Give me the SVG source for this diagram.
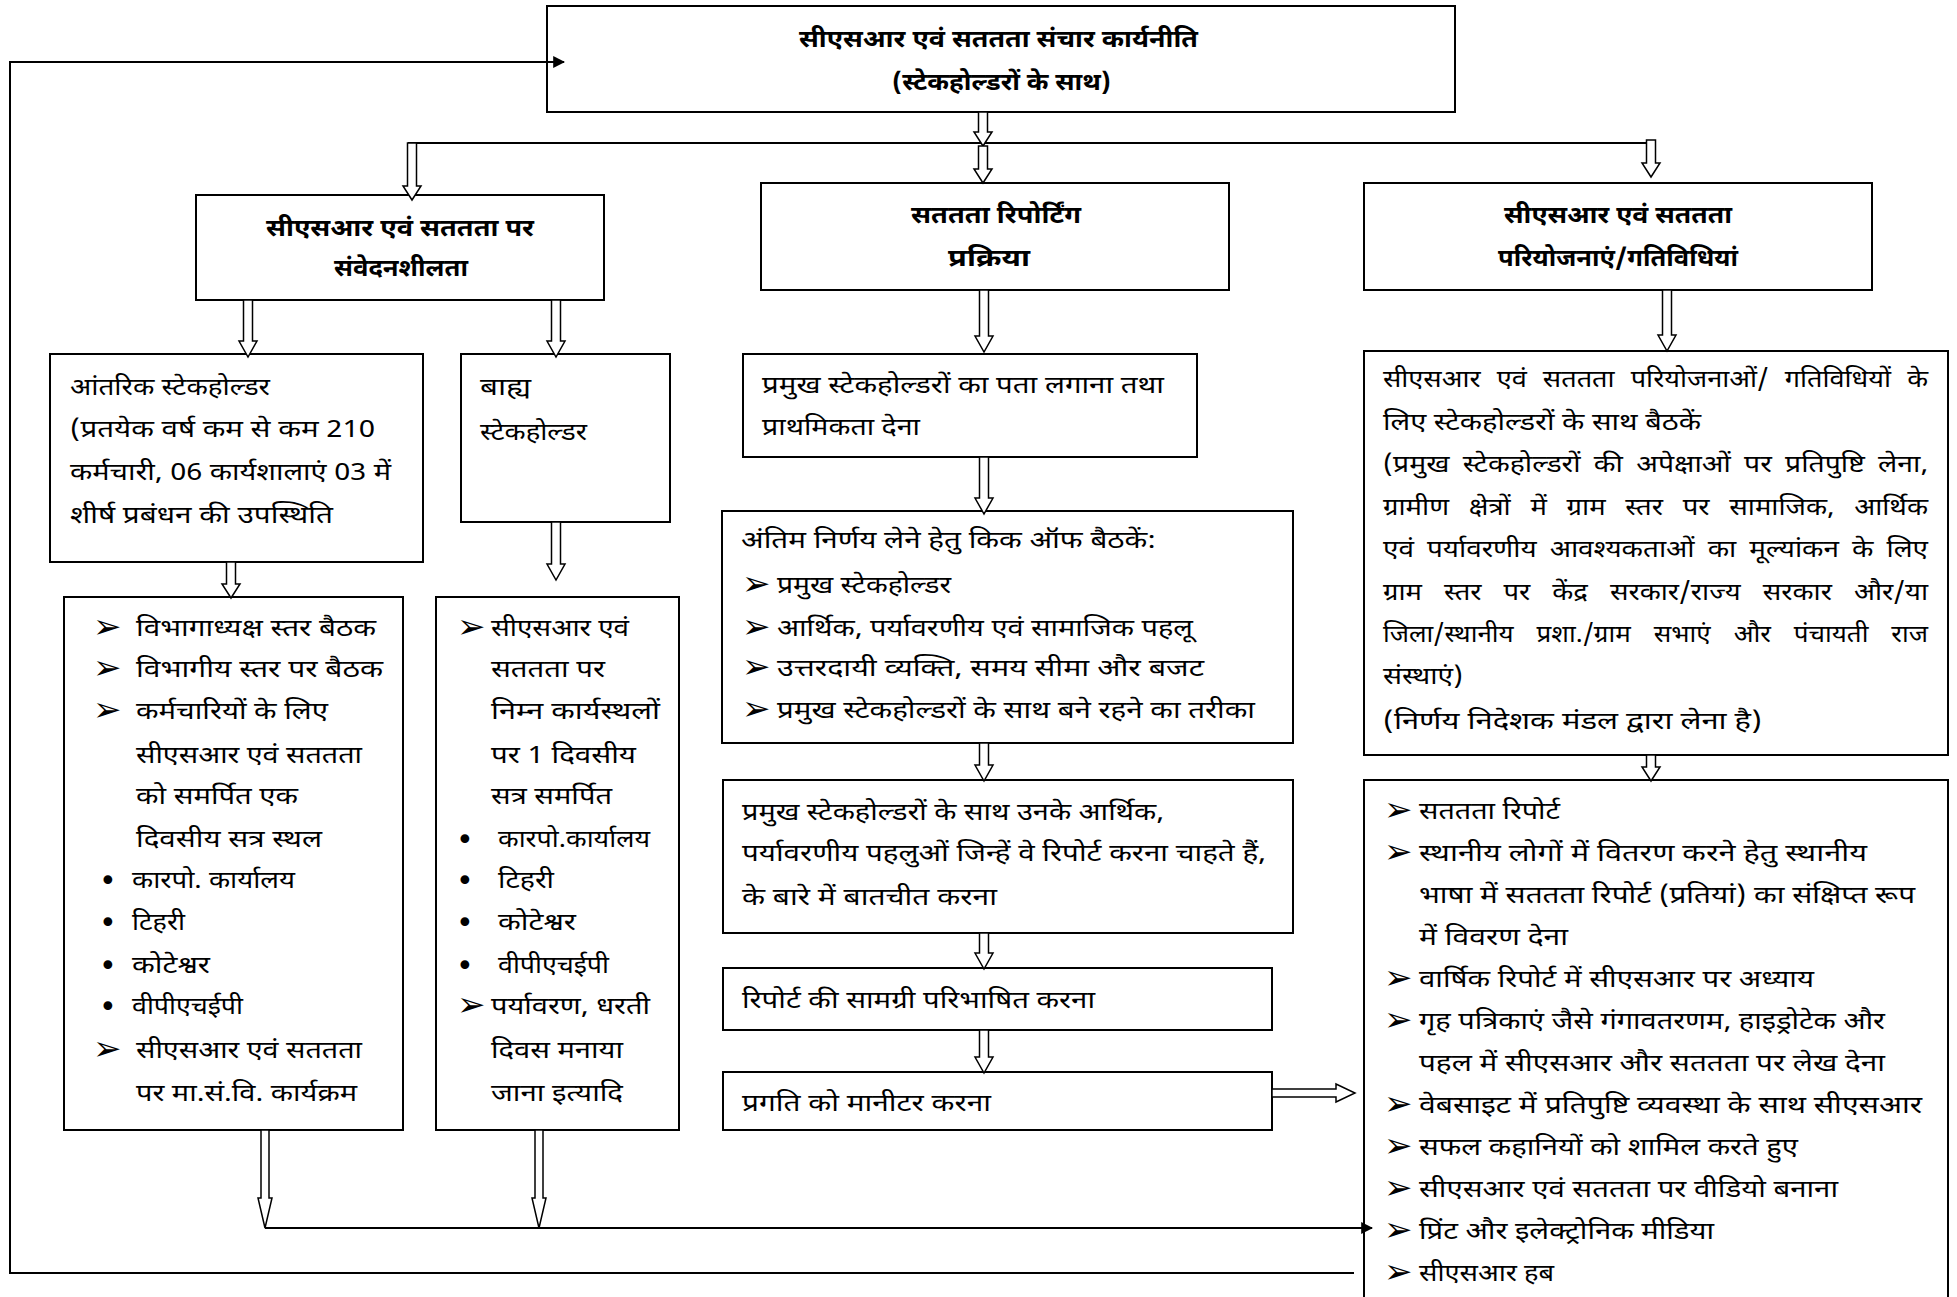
<svg xmlns="http://www.w3.org/2000/svg" width="1957" height="1297" viewBox="0 0 1957 1297">
<style>
.box{fill:#fff;stroke:#000;stroke-width:2}
.t{font-family:'Noto Sans Devanagari','Noto Sans','Liberation Sans',sans-serif;font-size:24px;fill:#000}
.h{font-weight:bold}
.b{font-family:'DejaVu Sans',sans-serif;font-size:34px;fill:#000}
.d{font-family:'DejaVu Sans',sans-serif;font-size:30px;fill:#000}
.arr{fill:#fff;stroke:#000;stroke-width:1.5}
.ln{fill:none;stroke:#000;stroke-width:2}
</style>
<defs>
<marker id="ah" viewBox="0 0 10 10" refX="9" refY="5" markerWidth="6" markerHeight="6" markerUnits="strokeWidth" orient="auto">
<path d="M0,0 L10,5 L0,10 Z" fill="#000"/>
</marker>
</defs>
<rect width="1957" height="1297" fill="#fff"/>

<g id="n-top">
<rect class="box" x="547" y="6" width="908" height="106"/>
<text class="t h" x="799" y="47" textLength="399" lengthAdjust="spacingAndGlyphs">सीएसआर एवं सततता संचार कार्यनीति</text>
<text class="t h" x="892" y="90" textLength="219" lengthAdjust="spacingAndGlyphs">(स्टेकहोल्डरों के साथ)</text>
</g>

<g id="n-sensitivity">
<rect class="box" x="196" y="195" width="408" height="105"/>
<text class="t h" x="266" y="236" textLength="268" lengthAdjust="spacingAndGlyphs">सीएसआर एवं सततता पर</text>
<text class="t h" x="334" y="276" textLength="134" lengthAdjust="spacingAndGlyphs">संवेदनशीलता</text>
</g>

<g id="n-reporting">
<rect class="box" x="761" y="183" width="468" height="107"/>
<text class="t h" x="911" y="223" textLength="170" lengthAdjust="spacingAndGlyphs">सततता रिपोर्टिंग</text>
<text class="t h" x="948" y="266" textLength="82" lengthAdjust="spacingAndGlyphs">प्रक्रिया</text>
</g>

<g id="n-projects">
<rect class="box" x="1364" y="183" width="508" height="107"/>
<text class="t h" x="1504" y="223" textLength="228" lengthAdjust="spacingAndGlyphs">सीएसआर एवं सततता</text>
<text class="t h" x="1498" y="266" textLength="240" lengthAdjust="spacingAndGlyphs">परियोजनाएं/गतिविधियां</text>
</g>

<g id="n-internal">
<rect class="box" x="50" y="354" width="373" height="208"/>
<text class="t" x="70" y="395" textLength="200" lengthAdjust="spacingAndGlyphs">आंतरिक स्टेकहोल्डर</text>
<text class="t" x="70" y="437" textLength="305" lengthAdjust="spacingAndGlyphs">(प्रतयेक वर्ष कम से कम 210</text>
<text class="t" x="70" y="480" textLength="321" lengthAdjust="spacingAndGlyphs">कर्मचारी, 06 कार्यशालाएं 03 में</text>
<text class="t" x="70" y="523" textLength="263" lengthAdjust="spacingAndGlyphs">शीर्ष प्रबंधन की उपस्थिति</text>
</g>

<g id="n-external">
<rect class="box" x="461" y="354" width="209" height="168"/>
<text class="t" x="480" y="395" textLength="51" lengthAdjust="spacingAndGlyphs">बाह्य</text>
<text class="t" x="480" y="440" textLength="107" lengthAdjust="spacingAndGlyphs">स्टेकहोल्डर</text>
</g>

<g id="n-internal-list">
<rect class="box" x="64" y="597" width="339" height="533"/>
<text class="b" x="93" y="638">➢</text><text class="t" x="136" y="636" textLength="240" lengthAdjust="spacingAndGlyphs">विभागाध्यक्ष स्तर बैठक</text>
<text class="b" x="93" y="679">➢</text><text class="t" x="136" y="677" textLength="247" lengthAdjust="spacingAndGlyphs">विभागीय स्तर पर बैठक</text>
<text class="b" x="93" y="721">➢</text><text class="t" x="136" y="719" textLength="192" lengthAdjust="spacingAndGlyphs">कर्मचारियों के लिए</text>
<text class="t" x="136" y="763" textLength="226" lengthAdjust="spacingAndGlyphs">सीएसआर एवं सततता</text>
<text class="t" x="136" y="804" textLength="162" lengthAdjust="spacingAndGlyphs">को समर्पित एक</text>
<text class="t" x="136" y="847" textLength="186" lengthAdjust="spacingAndGlyphs">दिवसीय सत्र स्थल</text>
<text class="d" x="99" y="891">•</text><text class="t" x="132" y="888" textLength="163" lengthAdjust="spacingAndGlyphs">कारपो. कार्यालय</text>
<text class="d" x="99" y="933">•</text><text class="t" x="132" y="930" textLength="53" lengthAdjust="spacingAndGlyphs">टिहरी</text>
<text class="d" x="99" y="976">•</text><text class="t" x="132" y="973" textLength="78" lengthAdjust="spacingAndGlyphs">कोटेश्वर</text>
<text class="d" x="99" y="1017">•</text><text class="t" x="132" y="1014" textLength="111" lengthAdjust="spacingAndGlyphs">वीपीएचईपी</text>
<text class="b" x="93" y="1060">➢</text><text class="t" x="136" y="1058" textLength="226" lengthAdjust="spacingAndGlyphs">सीएसआर एवं सततता</text>
<text class="t" x="136" y="1101" textLength="221" lengthAdjust="spacingAndGlyphs">पर मा.सं.वि. कार्यक्रम</text>
</g>

<g id="n-external-list">
<rect class="box" x="436" y="597" width="243" height="533"/>
<text class="b" x="457" y="638">➢</text><text class="t" x="491" y="636" textLength="138" lengthAdjust="spacingAndGlyphs">सीएसआर एवं</text>
<text class="t" x="491" y="677" textLength="114" lengthAdjust="spacingAndGlyphs">सततता पर</text>
<text class="t" x="491" y="719" textLength="169" lengthAdjust="spacingAndGlyphs">निम्न कार्यस्थलों</text>
<text class="t" x="491" y="763" textLength="145" lengthAdjust="spacingAndGlyphs">पर 1 दिवसीय</text>
<text class="t" x="491" y="804" textLength="121" lengthAdjust="spacingAndGlyphs">सत्र समर्पित</text>
<text class="d" x="456" y="850">•</text><text class="t" x="498" y="847" textLength="152" lengthAdjust="spacingAndGlyphs">कारपो.कार्यालय</text>
<text class="d" x="456" y="891">•</text><text class="t" x="498" y="888" textLength="56" lengthAdjust="spacingAndGlyphs">टिहरी</text>
<text class="d" x="456" y="933">•</text><text class="t" x="498" y="930" textLength="78" lengthAdjust="spacingAndGlyphs">कोटेश्वर</text>
<text class="d" x="456" y="976">•</text><text class="t" x="498" y="973" textLength="111" lengthAdjust="spacingAndGlyphs">वीपीएचईपी</text>
<text class="b" x="457" y="1016">➢</text><text class="t" x="491" y="1014" textLength="159" lengthAdjust="spacingAndGlyphs">पर्यावरण, धरती</text>
<text class="t" x="491" y="1058" textLength="132" lengthAdjust="spacingAndGlyphs">दिवस मनाया</text>
<text class="t" x="491" y="1101" textLength="132" lengthAdjust="spacingAndGlyphs">जाना इत्यादि</text>
</g>

<g id="n-identify">
<rect class="box" x="743" y="354" width="454" height="103"/>
<text class="t" x="762" y="393" textLength="402" lengthAdjust="spacingAndGlyphs">प्रमुख स्टेकहोल्डरों का पता लगाना तथा</text>
<text class="t" x="762" y="435" textLength="158" lengthAdjust="spacingAndGlyphs">प्राथमिकता देना</text>
</g>

<g id="n-kickoff">
<rect class="box" x="722" y="511" width="571" height="232"/>
<text class="t" x="741" y="548" textLength="415" lengthAdjust="spacingAndGlyphs">अंतिम निर्णय लेने हेतु किक ऑफ बैठकें:</text>
<text class="b" x="742" y="595">➢</text><text class="t" x="777" y="593" textLength="174" lengthAdjust="spacingAndGlyphs">प्रमुख स्टेकहोल्डर</text>
<text class="b" x="742" y="638">➢</text><text class="t" x="777" y="636" textLength="416" lengthAdjust="spacingAndGlyphs">आर्थिक, पर्यावरणीय एवं सामाजिक पहलू</text>
<text class="b" x="742" y="678">➢</text><text class="t" x="777" y="676" textLength="427" lengthAdjust="spacingAndGlyphs">उत्तरदायी व्यक्ति, समय सीमा और बजट</text>
<text class="b" x="742" y="720">➢</text><text class="t" x="777" y="718" textLength="478" lengthAdjust="spacingAndGlyphs">प्रमुख स्टेकहोल्डरों के साथ बने रहने का तरीका</text>
</g>

<g id="n-discuss">
<rect class="box" x="723" y="780" width="570" height="153"/>
<text class="t" x="742" y="820" textLength="422" lengthAdjust="spacingAndGlyphs">प्रमुख स्टेकहोल्डरों के साथ उनके आर्थिक,</text>
<text class="t" x="742" y="861" textLength="524" lengthAdjust="spacingAndGlyphs">पर्यावरणीय पहलुओं जिन्हें वे रिपोर्ट करना चाहते हैं,</text>
<text class="t" x="742" y="905" textLength="255" lengthAdjust="spacingAndGlyphs">के बारे में बातचीत करना</text>
</g>

<g id="n-define">
<rect class="box" x="723" y="968" width="549" height="62"/>
<text class="t" x="742" y="1008" textLength="353" lengthAdjust="spacingAndGlyphs">रिपोर्ट की सामग्री परिभाषित करना</text>
</g>

<g id="n-monitor">
<rect class="box" x="723" y="1072" width="549" height="58"/>
<text class="t" x="742" y="1111" textLength="249" lengthAdjust="spacingAndGlyphs">प्रगति को मानीटर करना</text>
</g>

<g id="n-meetings">
<rect class="box" x="1364" y="351" width="584" height="404"/>
<text class="t" x="1383" y="387" word-spacing="8" textLength="545" lengthAdjust="spacingAndGlyphs">सीएसआर एवं सततता परियोजनाओं/ गतिविधियों के</text>
<text class="t" x="1383" y="430" textLength="318" lengthAdjust="spacingAndGlyphs">लिए स्टेकहोल्डरों के साथ बैठकें</text>
<text class="t" x="1383" y="472" word-spacing="5" textLength="545" lengthAdjust="spacingAndGlyphs">(प्रमुख स्टेकहोल्डरों की अपेक्षाओं पर प्रतिपुष्टि लेना,</text>
<text class="t" x="1383" y="515" word-spacing="11" textLength="545" lengthAdjust="spacingAndGlyphs">ग्रामीण क्षेत्रों में ग्राम स्तर पर सामाजिक, आर्थिक</text>
<text class="t" x="1383" y="557" word-spacing="5" textLength="545" lengthAdjust="spacingAndGlyphs">एवं पर्यावरणीय आवश्यकताओं का मूल्यांकन के लिए</text>
<text class="t" x="1383" y="600" word-spacing="13" textLength="545" lengthAdjust="spacingAndGlyphs">ग्राम स्तर पर केंद्र सरकार/राज्य सरकार और/या</text>
<text class="t" x="1383" y="642" word-spacing="15" textLength="545" lengthAdjust="spacingAndGlyphs">जिला/स्थानीय प्रशा./ग्राम सभाएं और पंचायती राज</text>
<text class="t" x="1383" y="684" textLength="80" lengthAdjust="spacingAndGlyphs">संस्थाएं)</text>
<text class="t" x="1383" y="729" textLength="379" lengthAdjust="spacingAndGlyphs">(निर्णय निदेशक मंडल द्वारा लेना है)</text>
</g>

<g id="n-outputs">
<rect class="box" x="1364" y="780" width="584" height="540"/>
<text class="b" x="1384" y="821">➢</text><text class="t" x="1419" y="819" textLength="141" lengthAdjust="spacingAndGlyphs">सततता रिपोर्ट</text>
<text class="b" x="1384" y="863">➢</text><text class="t" x="1419" y="861" textLength="448" lengthAdjust="spacingAndGlyphs">स्थानीय लोगों में वितरण करने हेतु स्थानीय</text>
<text class="t" x="1419" y="903" textLength="496" lengthAdjust="spacingAndGlyphs">भाषा में सततता रिपोर्ट (प्रतियां) का संक्षिप्त रूप</text>
<text class="t" x="1419" y="945" textLength="149" lengthAdjust="spacingAndGlyphs">में विवरण देना</text>
<text class="b" x="1384" y="989">➢</text><text class="t" x="1419" y="987" textLength="395" lengthAdjust="spacingAndGlyphs">वार्षिक रिपोर्ट में सीएसआर पर अध्याय</text>
<text class="b" x="1384" y="1031">➢</text><text class="t" x="1419" y="1029" textLength="466" lengthAdjust="spacingAndGlyphs">गृह पत्रिकाएं जैसे गंगावतरणम, हाइड्रोटेक और</text>
<text class="t" x="1419" y="1071" textLength="466" lengthAdjust="spacingAndGlyphs">पहल में सीएसआर और सततता पर लेख देना</text>
<text class="b" x="1384" y="1115">➢</text><text class="t" x="1419" y="1113" textLength="503" lengthAdjust="spacingAndGlyphs">वेबसाइट में प्रतिपुष्टि व्यवस्था के साथ सीएसआर</text>
<text class="b" x="1384" y="1157">➢</text><text class="t" x="1419" y="1155" textLength="379" lengthAdjust="spacingAndGlyphs">सफल कहानियों को शामिल करते हुए</text>
<text class="b" x="1384" y="1199">➢</text><text class="t" x="1419" y="1197" textLength="419" lengthAdjust="spacingAndGlyphs">सीएसआर एवं सततता पर वीडियो बनाना</text>
<text class="b" x="1384" y="1241">➢</text><text class="t" x="1419" y="1239" textLength="295" lengthAdjust="spacingAndGlyphs">प्रिंट और इलेक्ट्रोनिक मीडिया</text>
<text class="b" x="1384" y="1283">➢</text><text class="t" x="1419" y="1281" textLength="135" lengthAdjust="spacingAndGlyphs">सीएसआर हब</text>
</g>

<g id="connectors">
<path class="ln" d="M408,143 H1656"/>
<path class="ln" d="M1354,1273 H10 V62 H564" marker-end="url(#ah)"/>
<path class="ln" d="M265,1228 H1372" marker-end="url(#ah)"/>
<polygon class="arr" points="978.5,112 987.5,112 987.5,132 992,132 983,146 974,132 978.5,132"/>
<polygon class="arr" points="978.5,146 987.5,146 987.5,169 992,169 983,183 974,169 978.5,169"/>
<polygon class="arr" points="407.5,143 416.5,143 416.5,186 421,186 412,200 403,186 407.5,186"/>
<polygon class="arr" points="1646.5,140 1655.5,140 1655.5,163 1660,163 1651,177 1642,163 1646.5,163"/>
<polygon class="arr" points="243.5,300 252.5,300 252.5,341 257,341 248,357 239,341 243.5,341"/>
<polygon class="arr" points="551.5,300 560.5,300 560.5,341 565,341 556,357 547,341 551.5,341"/>
<polygon class="arr" points="979.5,290 988.5,290 988.5,336 993,336 984,352 975,336 979.5,336"/>
<polygon class="arr" points="979.5,457 988.5,457 988.5,498 993,498 984,514 975,498 979.5,498"/>
<polygon class="arr" points="979.5,743 988.5,743 988.5,765 993,765 984,781 975,765 979.5,765"/>
<polygon class="arr" points="979.5,933 988.5,933 988.5,953 993,953 984,969 975,953 979.5,953"/>
<polygon class="arr" points="979.5,1030 988.5,1030 988.5,1057 993,1057 984,1073 975,1057 979.5,1057"/>
<polygon class="arr" points="1662.5,290 1671.5,290 1671.5,335 1676,335 1667,351 1658,335 1662.5,335"/>
<polygon class="arr" points="1646.5,755 1655.5,755 1655.5,767 1660,767 1651,781 1642,767 1646.5,767"/>
<polygon class="arr" points="226.5,562 235.5,562 235.5,584 240,584 231,598 222,584 226.5,584"/>
<polygon class="arr" points="551.5,522 560.5,522 560.5,564 565,564 556,580 547,564 551.5,564"/>
<polygon class="arr" points="261,1130 269,1130 269,1198 272,1198 265,1228 258,1198 261,1198"/>
<polygon class="arr" points="535,1130 543,1130 543,1198 546,1198 539,1228 532,1198 535,1198"/>
<polygon class="arr" points="1272,1089 1336,1089 1336,1084 1355,1093 1336,1102 1336,1097 1272,1097"/>
</g>
</svg>
